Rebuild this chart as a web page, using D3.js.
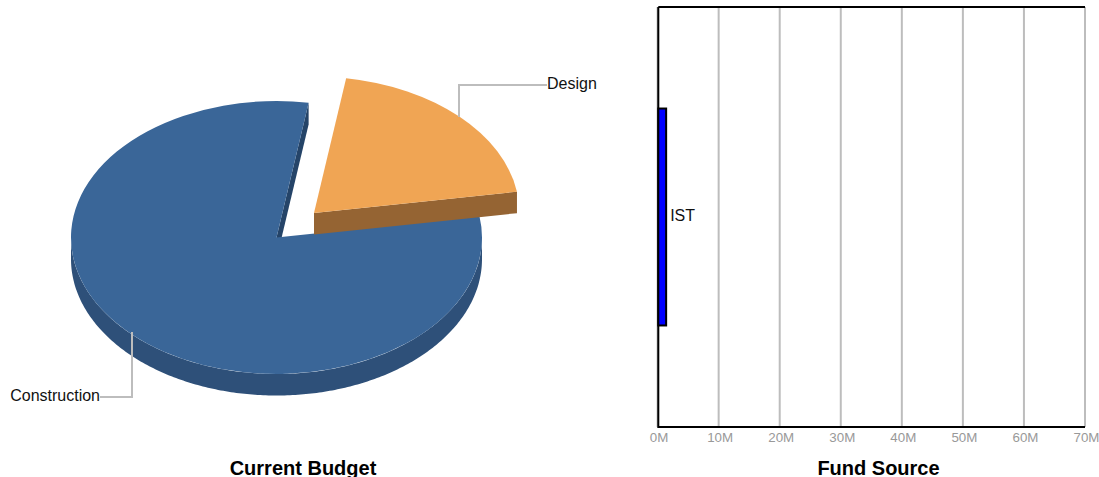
<!DOCTYPE html>
<html><head><meta charset="utf-8">
<script src="https://cdnjs.cloudflare.com/ajax/libs/d3/7.8.5/d3.min.js"></script>
<style>html,body{margin:0;padding:0;background:#fff}svg{display:block}text{font-family:"Liberation Sans",Arial,sans-serif}</style>
</head><body><svg id="c" width="1099" height="477"></svg>
<script>
const pieCategories = ["Design", "Construction"];
const pieValues = [20, 80];
const pieColors = ["#f0a554", "#3a6698"];
const pieSideColors = ["#956433", "#2e5079"];
const pieCutColors = ["#7d5329", "#254468"];
const pieTitle = "Current Budget";
const fundCategories = ["IST"];
const fundValues = [1.4];
const fundTicks = [0, 10, 20, 30, 40, 50, 60, 70];
const fundTitle = "Fund Source";

const svg = d3.select("#c");
const cx = 276.5, cy = 237.5, rx = 205.5, ry = 136.5, depth = 21.5;
const explode = [[37.5, -24.5], [0, 0]];
const startDeg = 9;
const pie = d3.pie().sort(null).startAngle(startDeg * Math.PI / 180).endAngle((startDeg + 360) * Math.PI / 180);
const slices = pie(pieValues);
const pt = (a, ox, oy, dy = 0) => [cx + ox + rx * Math.sin(a), cy + oy + dy - ry * Math.cos(a)];
const line = d3.line();
const arcGen = d3.arc().innerRadius(0).outerRadius(rx);
function samples(a0, a1, n = 240) { return d3.range(n + 1).map(i => a0 + (a1 - a0) * i / n); }

[1, 0].forEach(i => {
  const s = slices[i], [ox, oy] = explode[i];
  const g = svg.append("g");
  const apex = [cx + ox, cy + oy];
  const B = pt(s.endAngle, ox, oy);
  const lo = Math.max(s.startAngle, Math.PI / 2), hi = Math.min(s.endAngle, 3 * Math.PI / 2);
  if (hi > lo) {
    const as = samples(lo, hi);
    const pts = as.map(a => pt(a, ox, oy)).concat(as.slice().reverse().map(a => pt(a, ox, oy, depth)));
    g.append("path").attr("d", line(pts) + "Z").attr("fill", pieSideColors[i]);
  }
  g.append("path")
    .attr("d", line([apex, B, [B[0], B[1] + depth], [apex[0], apex[1] + depth]]) + "Z")
    .attr("fill", i === 0 ? pieSideColors[i] : pieCutColors[i]);
  g.append("path")
    .attr("transform", `translate(${apex[0]},${apex[1]}) scale(1,${ry / rx})`)
    .attr("d", arcGen(s)).attr("fill", pieColors[i]);
});

const leader = [
  {label: pieCategories[0], pts: [[459, 117], [459, 85], [547, 85]], x: 547, y: 89, anchor: "start"},
  {label: pieCategories[1], pts: [[132, 332], [132, 397], [100, 397]], x: 100, y: 401, anchor: "end"}
];
leader.forEach(l => {
  svg.append("path").attr("d", line(l.pts)).attr("fill", "none").attr("stroke", "#bdbdbd").attr("stroke-width", 2);
  svg.append("text").attr("x", l.x).attr("y", l.y).attr("text-anchor", l.anchor)
    .attr("font-size", 16).attr("fill", "#111").text(l.label);
});
svg.append("text").attr("x", 303).attr("y", 475).attr("text-anchor", "middle")
  .attr("font-size", 20).attr("font-weight", "bold").attr("fill", "#000").text(pieTitle);

const x = d3.scaleLinear().domain([0, 70]).range([657.6, 1085]);
const y = d3.scaleBand().domain(fundCategories).range([7, 427]).paddingInner(0).paddingOuter(0.468);
const axis = svg.append("g").attr("transform", "translate(0,427)")
  .call(d3.axisBottom(x).offset(0).tickValues(fundTicks).tickFormat(d => d + "M").tickSize(-420).tickPadding(6));
axis.select(".domain").remove();
axis.selectAll("line").attr("stroke", "#bdbdbd").attr("stroke-width", 2);
axis.selectAll("text").attr("font-size", 13.33).attr("fill", "#999").attr("dx", 1.5).attr("font-family", '"Liberation Sans",Arial,sans-serif');
const frameNudge = 0.7;
svg.append("path").attr("d", `M${x(0) + frameNudge},7H1085M${x(0) + frameNudge},7V427H1085`).attr("fill", "none").attr("stroke", "#000").attr("stroke-width", 2);
svg.selectAll(".bar").data(fundValues).enter().append("rect").attr("class", "bar")
  .attr("x", x(0) + frameNudge).attr("y", (d, i) => y(fundCategories[i]))
  .attr("width", d => x(d) - x(0) - frameNudge).attr("height", y.bandwidth())
  .attr("fill", "#0000ff").attr("stroke", "#000").attr("stroke-width", 2);
svg.append("text").attr("x", x(fundValues[0]) + 4).attr("y", 221).attr("font-size", 16).attr("fill", "#111").text(fundCategories[0]);
svg.append("text").attr("x", 878.5).attr("y", 475).attr("text-anchor", "middle")
  .attr("font-size", 20).attr("font-weight", "bold").attr("fill", "#000").text(fundTitle);
</script></body></html>
